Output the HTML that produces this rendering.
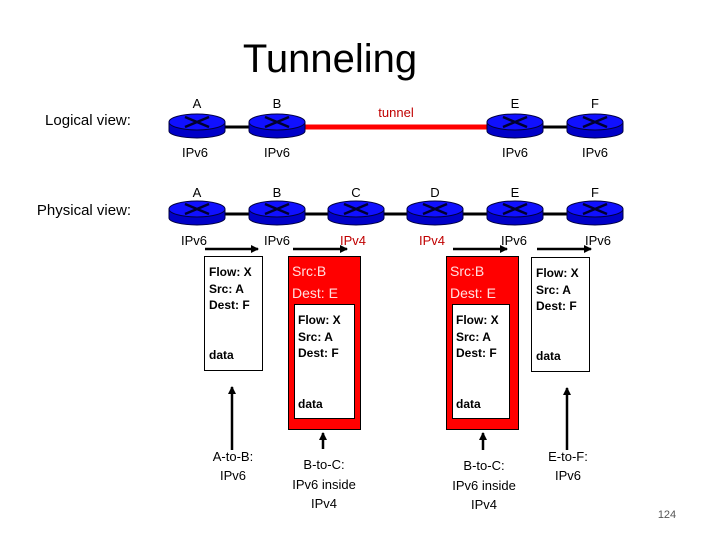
<!DOCTYPE html>
<html><head><meta charset="utf-8"><style>
html,body{margin:0;padding:0;background:#fff;}
svg{display:block;}
text{font-family:"Liberation Sans",sans-serif;}
</style></head><body>
<svg width="720" height="540" viewBox="0 0 720 540" xmlns="http://www.w3.org/2000/svg">
<defs>
<g id="r">
<ellipse cx="0" cy="6" rx="28" ry="7" fill="#0000c8" stroke="#000040" stroke-width="1"/>
<rect x="-28" y="-3" width="56" height="9" fill="#0000c8"/>
<line x1="-28" y1="-3" x2="-28" y2="6" stroke="#000040"/>
<line x1="28" y1="-3" x2="28" y2="6" stroke="#000040"/>
<ellipse cx="0" cy="-3" rx="28" ry="8" fill="#1010ff" stroke="#000040" stroke-width="1"/>
<path d="M-12,-8 Q0,-3 12,2 M-12,2 Q0,-3 12,-8" stroke="#000030" stroke-width="2.5" fill="none"/>
</g>
<marker id="ah" markerWidth="8" markerHeight="8" refX="7" refY="4" orient="auto" markerUnits="userSpaceOnUse"><path d="M0,0 L8,4 L0,8 z" fill="#000"/></marker>
</defs>
<text x="330" y="72" font-size="40" text-anchor="middle">Tunneling</text>
<text x="88" y="125" font-size="15" text-anchor="middle">Logical view:</text>
<text x="84" y="215" font-size="15" text-anchor="middle">Physical view:</text>

<line x1="197" y1="127" x2="277" y2="127" stroke="#000" stroke-width="3"/>
<line x1="515" y1="127" x2="595" y2="127" stroke="#000" stroke-width="3"/>
<line x1="305" y1="127" x2="488" y2="127" stroke="#ff0000" stroke-width="5"/>
<text x="396" y="117" font-size="13" fill="#c00000" text-anchor="middle">tunnel</text>
<use href="#r" x="197" y="125"/><use href="#r" x="277" y="125"/>
<use href="#r" x="515" y="125"/><use href="#r" x="595" y="125"/>
<g font-size="13" text-anchor="middle">
<text x="197" y="108">A</text><text x="277" y="108">B</text><text x="515" y="108">E</text><text x="595" y="108">F</text>
<text x="195" y="157">IPv6</text><text x="277" y="157">IPv6</text><text x="515" y="157">IPv6</text><text x="595" y="157">IPv6</text>
</g>

<line x1="197" y1="214" x2="595" y2="214" stroke="#000" stroke-width="3"/>
<use href="#r" x="197" y="212"/><use href="#r" x="277" y="212"/><use href="#r" x="356" y="212"/>
<use href="#r" x="435" y="212"/><use href="#r" x="515" y="212"/><use href="#r" x="595" y="212"/>
<g font-size="13" text-anchor="middle">
<text x="197" y="197">A</text><text x="277" y="197">B</text><text x="356" y="197">C</text><text x="435" y="197">D</text><text x="515" y="197">E</text><text x="595" y="197">F</text>
<text x="194" y="245">IPv6</text><text x="277" y="245">IPv6</text><text x="353" y="245" fill="#c00000">IPv4</text><text x="432" y="245" fill="#c00000">IPv4</text><text x="514" y="245">IPv6</text><text x="598" y="245">IPv6</text>
</g>
<g stroke="#000" stroke-width="2.5" marker-end="url(#ah)">
<line x1="205" y1="249" x2="258" y2="249"/>
<line x1="293" y1="249" x2="347" y2="249"/>
<line x1="453" y1="249" x2="507" y2="249"/>
<line x1="537" y1="249" x2="591" y2="249"/>
</g>

<rect x="204.5" y="256.5" width="58" height="114" fill="#fff" stroke="#000"/>
<g font-size="12" font-weight="bold"><text x="209" y="276">Flow: X</text><text x="209" y="293">Src: A</text><text x="209" y="309">Dest: F</text><text x="209" y="359">data</text></g>

<rect x="288.5" y="256.5" width="72" height="173" fill="#ff0000" stroke="#000"/>
<text x="292" y="276" font-size="14" fill="#ffe0e0">Src:B</text>
<text x="292" y="298" font-size="14" fill="#ffe0e0">Dest: E</text>
<rect x="294.5" y="304.5" width="60" height="114" fill="#fff" stroke="#000"/>
<g font-size="12" font-weight="bold"><text x="298" y="324">Flow: X</text><text x="298" y="341">Src: A</text><text x="298" y="357">Dest: F</text><text x="298" y="408">data</text></g>

<rect x="446.5" y="256.5" width="72" height="173" fill="#ff0000" stroke="#000"/>
<text x="450" y="276" font-size="14" fill="#ffe0e0">Src:B</text>
<text x="450" y="298" font-size="14" fill="#ffe0e0">Dest: E</text>
<rect x="452.5" y="304.5" width="57" height="114" fill="#fff" stroke="#000"/>
<g font-size="12" font-weight="bold"><text x="456" y="324">Flow: X</text><text x="456" y="341">Src: A</text><text x="456" y="357">Dest: F</text><text x="456" y="408">data</text></g>

<rect x="531.5" y="257.5" width="58" height="114" fill="#fff" stroke="#000"/>
<g font-size="12" font-weight="bold"><text x="536" y="277">Flow: X</text><text x="536" y="294">Src: A</text><text x="536" y="310">Dest: F</text><text x="536" y="360">data</text></g>

<g stroke="#000" stroke-width="2.5" marker-end="url(#ah)">
<line x1="232" y1="450" x2="232" y2="387"/>
<line x1="323" y1="449" x2="323" y2="433"/>
<line x1="483" y1="450" x2="483" y2="433"/>
<line x1="567" y1="450" x2="567" y2="388"/>
</g>
<g font-size="13" text-anchor="middle">
<text x="233" y="461">A-to-B:</text><text x="233" y="480">IPv6</text>
<text x="324" y="469">B-to-C:</text><text x="324" y="489">IPv6 inside</text><text x="324" y="508">IPv4</text>
<text x="484" y="470">B-to-C:</text><text x="484" y="490">IPv6 inside</text><text x="484" y="509">IPv4</text>
<text x="568" y="461">E-to-F:</text><text x="568" y="480">IPv6</text>
</g>
<text x="667" y="518" font-size="11" fill="#555" text-anchor="middle">124</text>
</svg>
</body></html>
